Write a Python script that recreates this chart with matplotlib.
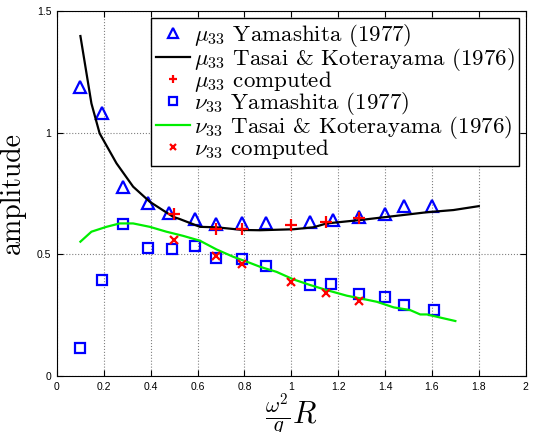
import numpy as np
import matplotlib
matplotlib.use('Agg')
import matplotlib.pyplot as plt

plt.rcParams['mathtext.fontset'] = 'cm'
plt.rcParams['font.family'] = 'serif'
plt.rcParams['font.serif'] = ['cmr10', 'DejaVu Serif']
plt.rcParams['axes.unicode_minus'] = False

# mu_33 Yamashita (1977)
mu_yam_x = [0.10, 0.19, 0.28, 0.39, 0.48, 0.59, 0.68, 0.79, 0.89, 1.08, 1.18, 1.29, 1.40, 1.48, 1.60]
mu_yam_y = [1.187, 1.079, 0.778, 0.709, 0.668, 0.645, 0.623, 0.630, 0.630, 0.631, 0.641, 0.655, 0.664, 0.698, 0.698]

# mu_33 Tasai & Koterayama (1976)
mu_tk_x = [0.10, 0.147, 0.182, 0.254, 0.325, 0.396, 0.496, 0.524, 0.61, 0.681, 0.795, 0.866,
           1.009, 1.094, 1.151, 1.294, 1.437, 1.579, 1.692, 1.80]
mu_tk_y = [1.397, 1.12, 0.997, 0.874, 0.778, 0.716, 0.654, 0.645, 0.613, 0.611, 0.600, 0.599,
           0.603, 0.611, 0.627, 0.641, 0.657, 0.673, 0.682, 0.698]

# mu_33 computed
mu_cmp_x = [0.50, 0.68, 0.79, 1.00, 1.15, 1.29]
mu_cmp_y = [0.664, 0.605, 0.605, 0.620, 0.634, 0.648]

# nu_33 Yamashita (1977)
nu_yam_x = [0.10, 0.19, 0.28, 0.39, 0.49, 0.59, 0.68, 0.79, 0.89, 1.08, 1.17, 1.29, 1.40, 1.48, 1.61]
nu_yam_y = [0.115, 0.393, 0.623, 0.526, 0.522, 0.535, 0.486, 0.481, 0.453, 0.372, 0.379, 0.338, 0.325, 0.293, 0.271]

# nu_33 Tasai & Koterayama (1976)
nu_tk_x = [0.10, 0.147, 0.211, 0.268, 0.325, 0.396, 0.467, 0.538, 0.61, 0.681, 0.752, 0.823,
           0.866, 0.937, 1.009, 1.08, 1.151, 1.237, 1.294, 1.365, 1.437, 1.507, 1.55, 1.579, 1.65, 1.70]
nu_tk_y = [0.552, 0.593, 0.613, 0.627, 0.627, 0.613, 0.593, 0.576, 0.556, 0.520, 0.490, 0.465,
           0.449, 0.428, 0.397, 0.374, 0.353, 0.330, 0.319, 0.305, 0.282, 0.271, 0.253, 0.253, 0.237, 0.226]

# nu_33 computed
nu_cmp_x = [0.50, 0.68, 0.79, 1.00, 1.15, 1.29]
nu_cmp_y = [0.557, 0.493, 0.461, 0.387, 0.342, 0.308]

fig = plt.figure(figsize=(5.35, 4.32), dpi=100)
ax = fig.add_axes([0.1065, 0.1296, 0.876, 0.845])

ax.plot(mu_yam_x, mu_yam_y, linestyle='none', marker='^', markersize=9, markerfacecolor='none',
        markeredgecolor='blue', markeredgewidth=1.6, label=r'$\mu_{33}$ Yamashita (1977)')
ax.plot(mu_tk_x, mu_tk_y, color='black', linewidth=1.6,
        label=r'$\mu_{33}$ Tasai & Koterayama (1976)')
ax.plot(mu_cmp_x, mu_cmp_y, linestyle='none', marker='+', markersize=8, markeredgecolor='red',
        markeredgewidth=1.6, label=r'$\mu_{33}$ computed')
ax.plot(nu_yam_x, nu_yam_y, linestyle='none', marker='s', markersize=7, markerfacecolor='none',
        markeredgecolor='blue', markeredgewidth=1.6, label=r'$\nu_{33}$ Yamashita (1977)')
ax.plot(nu_tk_x, nu_tk_y, color='#00ee00', linewidth=1.6,
        label=r'$\nu_{33}$ Tasai & Koterayama (1976)')
ax.plot(nu_cmp_x, nu_cmp_y, linestyle='none', marker='x', markersize=6, markeredgecolor='red',
        markeredgewidth=1.6, label=r'$\nu_{33}$ computed')

ax.set_xlim(0, 2)
ax.set_ylim(0, 1.5)
ax.set_xticks(np.arange(0, 2.01, 0.2))
ax.set_xticklabels(['0', '0.2', '0.4', '0.6', '0.8', '1', '1.2', '1.4', '1.6', '1.8', '2'],
                   family='Liberation Sans')
ax.set_yticks([0, 0.5, 1, 1.5])
ax.set_yticklabels(['0', '0.5', '1', '1.5'], family='Liberation Sans')
ax.tick_params(direction='in', top=True, right=True, labelsize=7.5, length=4, pad=4)
ax.grid(True, linestyle=':', color='gray', linewidth=0.8)

ax.set_ylabel('amplitude', fontsize=20, labelpad=8)
ax.set_xlabel(r'$\frac{\omega^2}{g}R$', fontsize=22, labelpad=0)

leg = ax.legend(loc='upper right', fontsize=16.5, handlelength=1.5, handletextpad=0.15,
                labelspacing=-0.16, borderpad=0.2, borderaxespad=0.3, fancybox=False,
                framealpha=1, edgecolor='black', markerscale=0.8)
leg.get_frame().set_linewidth(1.0)

fig.savefig('out.png', dpi=100)
